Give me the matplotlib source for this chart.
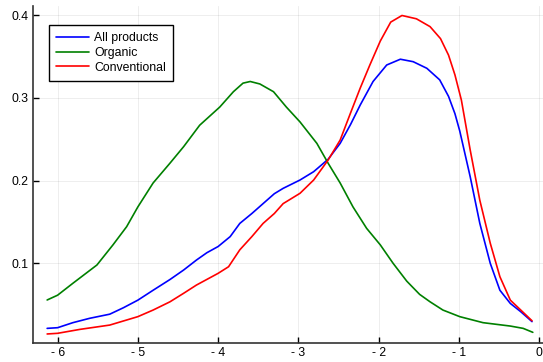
import matplotlib
matplotlib.use("Agg")
import matplotlib.pyplot as plt

plt.rcParams['font.family'] = ['Liberation Sans', 'DejaVu Sans']

# density estimates
x_org = [-6.13, -6.0, -5.81, -5.51, -5.31, -5.14, -5.0, -4.81, -4.6, -4.43, -4.23,
         -3.98, -3.81, -3.69, -3.6, -3.48, -3.31, -3.15, -2.98, -2.77, -2.63, -2.48,
         -2.32, -2.15, -1.98, -1.82, -1.65, -1.49, -1.36, -1.2, -0.99, -0.7, -0.36, -0.2, -0.08]
y_org = [0.0552, 0.061, 0.0754, 0.0976, 0.122, 0.144, 0.168, 0.197, 0.221, 0.241, 0.267,
         0.289, 0.3076, 0.318, 0.320, 0.317, 0.3076, 0.289, 0.271, 0.245, 0.221, 0.197,
         0.168, 0.142, 0.122, 0.0996, 0.078, 0.062, 0.053, 0.043, 0.035, 0.0277, 0.0236, 0.0208, 0.016]

x_all = [-6.13, -6.0, -5.81, -5.6, -5.35, -5.18, -5.0, -4.81, -4.6, -4.43, -4.27, -4.14,
         -4.0, -3.85, -3.73, -3.58, -3.44, -3.3, -3.19, -2.98, -2.81, -2.63, -2.48, -2.35,
         -2.23, -2.07, -1.9, -1.73, -1.57, -1.4, -1.24, -1.13, -1.05, -0.99, -0.86, -0.74,
         -0.61, -0.49, -0.36, -0.23, -0.09]
y_all = [0.0208, 0.0216, 0.0277, 0.033, 0.038, 0.0458, 0.055, 0.067, 0.08, 0.0915, 0.1036, 0.1125,
         0.12, 0.132, 0.148, 0.16, 0.172, 0.184, 0.1905, 0.2006, 0.2107, 0.2257, 0.245, 0.268,
         0.2915, 0.320, 0.340, 0.347, 0.344, 0.336, 0.322, 0.302, 0.281, 0.260, 0.2046, 0.148,
         0.0996, 0.067, 0.051, 0.041, 0.029]

x_conv = [-6.13, -6.0, -5.72, -5.35, -5.0, -4.81, -4.6, -4.43, -4.27, -4.0, -3.87, -3.73,
          -3.58, -3.44, -3.3, -3.19, -2.98, -2.81, -2.63, -2.48, -2.35, -2.23, -2.11, -1.98,
          -1.85, -1.71, -1.53, -1.36, -1.23, -1.13, -1.05, -0.97, -0.86, -0.74, -0.61, -0.49,
          -0.36, -0.23, -0.09]
y_conv = [0.014, 0.0148, 0.0196, 0.0248, 0.035, 0.043, 0.053, 0.0633, 0.0733, 0.0875, 0.0955, 0.116,
          0.132, 0.148, 0.16, 0.172, 0.1845, 0.2006, 0.2248, 0.249, 0.282, 0.312, 0.340, 0.369,
          0.392, 0.400, 0.396, 0.3865, 0.372, 0.352, 0.328, 0.2976, 0.237, 0.176, 0.124, 0.0834,
          0.055, 0.043, 0.030]

xticks = [-6, -5, -4, -3, -2, -1, 0]
xtick_labels = ['- 6', '- 5', '- 4', '- 3', '- 2', '- 1', '0']
yticks = [0.1, 0.2, 0.3, 0.4]

W, H = 543, 362
fig = plt.figure(figsize=(W / 100, H / 100), dpi=100)
ax = fig.add_axes([32.7 / W, (H - 343.3) / H, (W - 32.7) / W, (343.3 - 6) / H])

style = dict(lw=1.2, solid_joinstyle='round', solid_capstyle='round')
ax.plot(x_all, y_all, color='#0000ff', label='All products', **style)
ax.plot(x_org, y_org, color='#008000', label='Organic', **style)
ax.plot(x_conv, y_conv, color='#ff0000', label='Conventional', **style)

ax.set_xlim(-6.31, 0.047)
ax.set_ylim(0.0027, 0.4115)
ax.set_xticks(xticks)
ax.set_xticklabels(xtick_labels)
ax.set_yticks(yticks)
ax.tick_params(direction='in', length=4, width=1, labelsize=8.8, colors='black', pad=3)
ax.grid(True, color='black', alpha=0.08, lw=0.6)

for s in ['top', 'right']:
    ax.spines[s].set_visible(False)
for s in ['left', 'bottom']:
    ax.spines[s].set_linewidth(1.2)
    ax.spines[s].set_color('#333333')

leg = ax.legend(loc='upper left', bbox_to_anchor=(49 / W, 1 - 25 / H), bbox_transform=fig.transFigure,
                borderaxespad=0, fancybox=False, edgecolor='black', framealpha=1, fontsize=8.8,
                handlelength=2.7, handletextpad=0.4, labelspacing=0.22, borderpad=0.6)
leg.get_frame().set_linewidth(1.0)

fig.savefig('out.png', dpi=100)
